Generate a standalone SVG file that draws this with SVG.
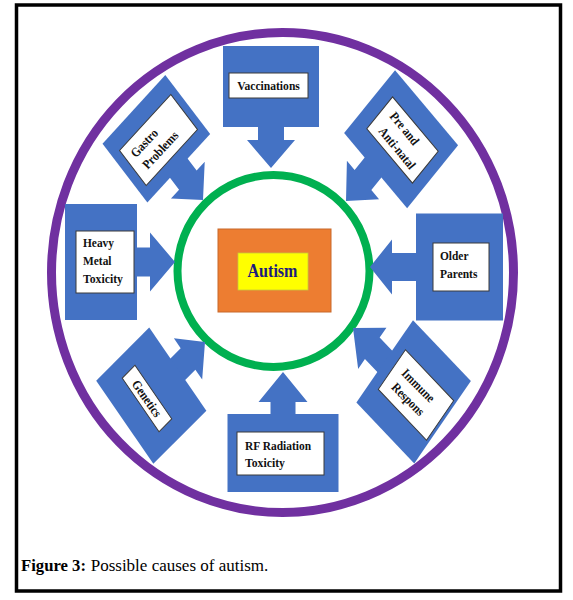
<svg xmlns="http://www.w3.org/2000/svg" width="573" height="600" viewBox="0 0 573 600">
<style>
.blue{fill:#4472c4}
.lbl{fill:#ffffff;stroke:#3a3a3a;stroke-width:1}
.t{font-family:'Liberation Serif','DejaVu Serif','Times New Roman',serif;font-weight:bold;font-size:13px;fill:#111}
.cap{font-family:'Liberation Serif','DejaVu Serif','Times New Roman',serif;font-size:17px;fill:#000}
.aut{font-family:'Liberation Serif','DejaVu Serif','Times New Roman',serif;font-weight:bold;font-size:19px;fill:#1b1b7e}
</style>
<rect x="0" y="0" width="573" height="600" fill="#ffffff"/>
<rect x="16.5" y="5" width="544" height="586" fill="none" stroke="#000" stroke-width="3.5"/>
<ellipse cx="282.5" cy="272.5" rx="231" ry="240" fill="none" stroke="#7030a0" stroke-width="9"/>
<circle cx="273.5" cy="271" r="96" fill="none" stroke="#00b050" stroke-width="8"/>

<g id="node-autism">
<rect x="218" y="229" width="113" height="83" fill="#ed7d31" stroke="#c8682a" stroke-width="1"/>
<rect x="238" y="253" width="70" height="37" fill="#ffff00" stroke="#c9c93a" stroke-width="0.8"/>
<text class="aut" x="272.5" y="277" text-anchor="middle" textLength="50" lengthAdjust="spacingAndGlyphs">Autism</text>
</g>

<g id="connectors" class="blue">
<polygon points="271,168 247,140 258,140 258,126 284,126 284,140 295,140"/>
<polygon points="175,262 150,232.5 150,247.5 136,247.5 136,276.5 150,276.5 150,291.5"/>
<polygon points="370,267 392,239.5 392,253 417,253 417,281 392,281 392,294.5"/>
<polygon points="283,372 258.5,402 270.5,402 270.5,415 295.5,415 295.5,402 307.5,402"/>
<polygon transform="matrix(0.606,0.795,-0.675,0.738,203,200)" points="0,0 -25,-25 -25,-13 -41,-13 -41,13 -25,13 -25,25"/>
<polygon transform="matrix(-0.629,0.777,-0.643,-0.766,346,201)" points="0,0 -27,-25 -27,-13 -44,-13 -44,13 -27,13 -27,25"/>
<polygon transform="matrix(0.707,-0.707,0.566,0.824,205,342)" points="0,0 -24,-25 -24,-13 -39.5,-13 -39.5,13 -24,13 -24,25"/>
<polygon transform="matrix(-0.689,-0.725,0.566,-0.824,353,328)" points="0,0 -28,-25 -28,-13 -47,-13 -47,13 -28,13 -28,25"/>
</g>

<g id="node-vaccinations">
<rect class="blue" x="223" y="46" width="96" height="81"/>
<rect class="lbl" x="229" y="73" width="79" height="25"/>
<text class="t" x="268.5" y="90" text-anchor="middle" textLength="62.7" lengthAdjust="spacingAndGlyphs">Vaccinations</text>
</g>

<g id="node-heavy-metal">
<rect class="blue" x="65" y="204" width="72" height="116"/>
<rect class="lbl" x="76" y="231" width="58" height="62"/>
<text class="t" x="83" y="247" textLength="31" lengthAdjust="spacingAndGlyphs">Heavy</text>
<text class="t" x="83" y="265" textLength="28.5" lengthAdjust="spacingAndGlyphs">Metal</text>
<text class="t" x="83" y="283" textLength="40" lengthAdjust="spacingAndGlyphs">Toxicity</text>
</g>

<g id="node-older-parents">
<rect class="blue" x="416" y="213.5" width="87" height="107"/>
<rect class="lbl" x="433" y="243" width="56" height="48"/>
<text class="t" x="440" y="260" textLength="28.5" lengthAdjust="spacingAndGlyphs">Older</text>
<text class="t" x="440" y="278" textLength="37.4" lengthAdjust="spacingAndGlyphs">Parents</text>
</g>

<g id="node-rf-radiation">
<rect class="blue" x="227.5" y="414" width="111" height="78"/>
<rect class="lbl" x="237" y="432" width="87" height="43"/>
<text class="t" x="245" y="450" textLength="66" lengthAdjust="spacingAndGlyphs">RF Radiation</text>
<text class="t" x="245" y="467" textLength="40" lengthAdjust="spacingAndGlyphs">Toxicity</text>
</g>

<g id="node-gastro">
<rect class="blue" transform="matrix(0.606,0.795,-0.675,0.738,203,200)" x="-114" y="-46.5" width="74" height="93"/>
<rect class="lbl" transform="matrix(0.675,-0.738,0.606,0.795,158.5,140)" x="-38" y="-22" width="76" height="44"/>
<g transform="translate(158.5,140) rotate(-47)">
<text class="t" x="-12" y="-4" text-anchor="middle" textLength="33.6" lengthAdjust="spacingAndGlyphs">Gastro</text>
<text class="t" x="-6" y="12.5" text-anchor="middle" textLength="46.2" lengthAdjust="spacingAndGlyphs">Problems</text>
</g>
</g>

<g id="node-pre-anti-natal">
<rect class="blue" transform="matrix(-0.629,0.777,-0.643,-0.766,346,201)" x="-124" y="-53" width="81" height="98"/>
<rect class="lbl" transform="matrix(0.643,0.766,-0.629,0.777,402.5,140)" x="-35.5" y="-20.5" width="71" height="41"/>
<g transform="translate(402.5,140) rotate(50.7)">
<text class="t" x="-7.5" y="-4.5" text-anchor="middle" textLength="38.3" lengthAdjust="spacingAndGlyphs">Pre and</text>
<text class="t" x="3" y="13.5" text-anchor="middle" textLength="50" lengthAdjust="spacingAndGlyphs">Anti-natal</text>
</g>
</g>

<g id="node-genetics">
<rect class="blue" transform="matrix(0.707,-0.707,0.566,0.824,205,342)" x="-113.5" y="-50.5" width="75" height="101"/>
<rect class="lbl" transform="matrix(0.566,0.824,-0.707,0.707,147,398.5)" x="-32.5" y="-9" width="65" height="18"/>
<g transform="translate(147,398.5) rotate(55)">
<text class="t" x="0" y="4.5" text-anchor="middle" textLength="41.8" lengthAdjust="spacingAndGlyphs">Genetics</text>
</g>
</g>

<g id="node-immune">
<rect class="blue" transform="matrix(-0.689,-0.725,0.566,-0.824,353,328)" x="-130" y="-50" width="84" height="100"/>
<rect class="lbl" transform="matrix(0.689,0.725,-0.566,0.824,416,395)" x="-35" y="-24" width="70" height="48"/>
<g transform="translate(416,395) rotate(45)">
<text class="t" x="-5" y="-4" text-anchor="middle" textLength="41.2" lengthAdjust="spacingAndGlyphs">Immune</text>
<text class="t" x="-2.5" y="13" text-anchor="middle" textLength="40.5" lengthAdjust="spacingAndGlyphs">Respons</text>
</g>
</g>

<g id="caption">
<text class="cap" x="21" y="571" font-weight="bold" textLength="65" lengthAdjust="spacingAndGlyphs">Figure 3:</text>
<text class="cap" x="90.7" y="571" textLength="177.6" lengthAdjust="spacingAndGlyphs">Possible causes of autism.</text>
</g>
</svg>
